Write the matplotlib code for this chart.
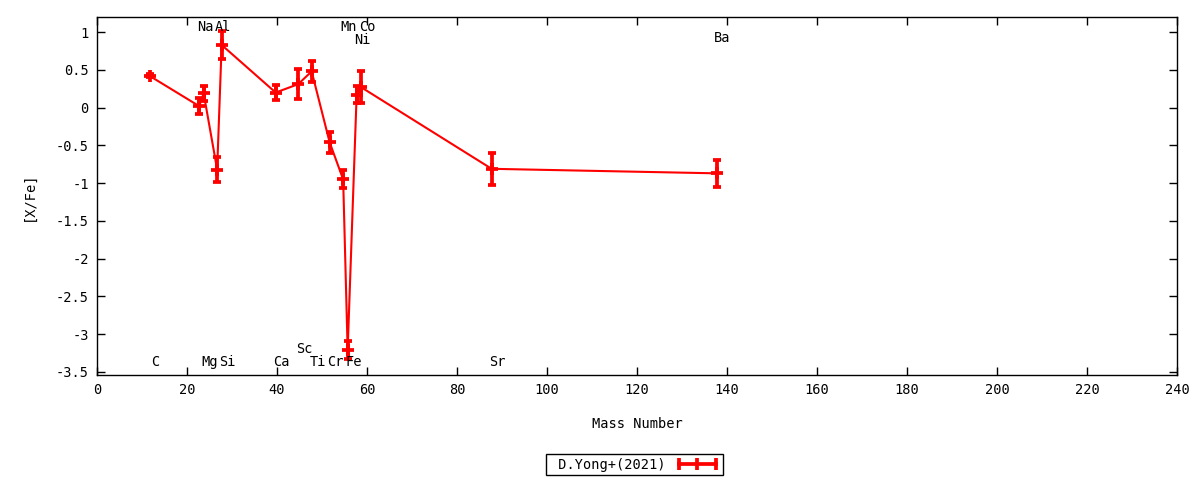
import matplotlib
matplotlib.use("Agg")
import matplotlib.pyplot as plt
from matplotlib.lines import Line2D

# -------------------------------
# DATA
# -------------------------------
elements = ["C", "Na", "Mg", "Al", "Si", "Ca", "Sc", "Ti", "Cr", "Mn", "Fe", "Ni", "Co", "Sr", "Ba"]
mass_numbers = [12, 23, 24, 27, 28, 40, 45, 48, 52, 55, 56, 58, 59, 88, 138]
x_fe = [0.42, 0.02, 0.19, -0.82, 0.83, 0.20, 0.31, 0.48, -0.46, -0.95, -3.21, 0.17, 0.27, -0.81, -0.87]
x_fe_err = [0.02, 0.11, 0.10, 0.17, 0.19, 0.10, 0.20, 0.14, 0.14, 0.12, 0.12, 0.11, 0.21, 0.21, 0.18]

# label heights for element names
label_y = {"C": -3.37, "Na": 1.07, "Mg": -3.37, "Al": 1.07, "Si": -3.37, "Ca": -3.37,
           "Sc": -3.19, "Ti": -3.37, "Cr": -3.37, "Mn": 1.07, "Fe": -3.37, "Ni": 0.89,
           "Co": 1.07, "Sr": -3.37, "Ba": 0.92}

legend_label = " D.Yong+(2021)"

# -------------------------------
# PLOT
# -------------------------------
plt.rcParams["font.family"] = ["DejaVu Sans Mono"]
plt.rcParams["font.size"] = 9.8

fig = plt.figure(figsize=(12, 4.8), dpi=100)
ax = fig.add_axes([97 / 1200, 1 - 375 / 480, 1080 / 1200, 358 / 480])

ax.errorbar([m - 0.3 for m in mass_numbers], x_fe, yerr=x_fe_err, color="red", lw=1.5,
            elinewidth=2.7, capsize=3.2, capthick=2.7,
            marker="+", markersize=8, mew=2.7)

for el, m in zip(elements, mass_numbers):
    ax.text(m + 1, label_y[el], el, ha="center", va="center")

ax.set_xlim(0, 240)
ax.set_ylim(-3.54, 1.2)
ax.set_xticks(range(0, 241, 20))
ax.set_yticks([1, 0.5, 0, -0.5, -1, -1.5, -2, -2.5, -3, -3.5])
ax.set_yticklabels(["1", "0.5", "0", "-0.5", "-1", "-1.5", "-2", "-2.5", "-3", "-3.5"])
ax.tick_params(direction="in", length=6, width=1, top=True, right=True, pad=6)
for s in ax.spines.values():
    s.set_linewidth(1)

ax.set_xlabel("Mass Number", labelpad=14)
ax.set_ylabel("[X/Fe]", labelpad=14)

handle = Line2D([], [], color="red", lw=2.7, marker="|", markersize=9, mew=2.7)
leg = fig.legend([handle], [legend_label], loc="center", bbox_to_anchor=(0.529, 0.032),
                 markerfirst=False, numpoints=3, fancybox=False, framealpha=1,
                 edgecolor="black", borderpad=0.25, handlelength=3.3, handletextpad=0.7)
leg.get_frame().set_linewidth(1)

plt.savefig("out.png", dpi=100)
plt.close()
